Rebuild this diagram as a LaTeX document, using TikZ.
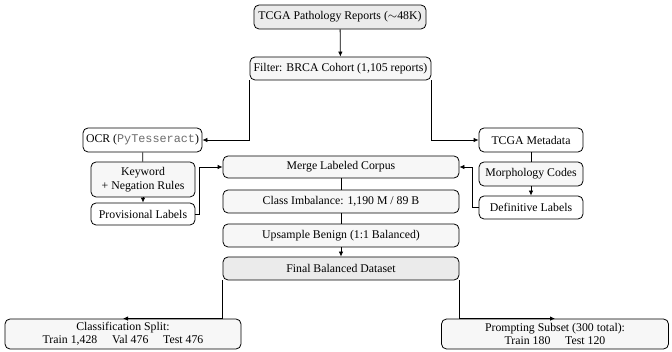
\documentclass[tikz,border=0pt]{standalone}
\usepackage{fontspec}
\setmainfont{Liberation Serif}
\setmonofont{Liberation Mono}
\usepackage{amssymb}
\usetikzlibrary{arrows.meta}
\usetikzlibrary{positioning}
\tikzstyle{box}=[rectangle,rounded corners=5pt,draw=black,fill=white,inner sep=1pt,minimum height=23pt,font=\fontsize{11.8}{13.5}\selectfont,align=center]
\tikzstyle{lightbox}=[box,fill=gray!6]
\tikzstyle{darkbox}=[box,fill=gray!16]
\tikzstyle{arrow}=[-{Latex[length=5pt,width=4.5pt]}]
\tikzset{every picture/.style={
    line width=0.8pt
  }
}

\begin{document}
\begin{tikzpicture}[x=1pt,y=-1pt]
    \useasboundingbox (0,0) rectangle (672,352);
    % source and filter
    \node[darkbox,minimum width=172pt,minimum height=24pt] at (340,17) (reports) {TCGA Pathology Reports ($\sim$48K)};
    \node[lightbox,minimum width=181pt] at (340.5,68.5) (filter) {Filter: BRCA Cohort (1,105 reports)};
    \draw[arrow] (reports) -- (filter);
    % left branch
    \node[box,minimum width=119pt,minimum height=24pt] at (142.5,140) (ocr) {OCR ({\ttfamily\color{gray!85!black}PyTesseract})};
    \node[lightbox,minimum width=104pt,minimum height=35pt] at (143,179.5) (keyword) {Keyword\\+ Negation Rules};
    \node[box,minimum width=104pt,minimum height=22pt] at (143,214) (provisional) {Provisional Labels};
    % right branch
    \node[box,minimum width=104pt,minimum height=24pt] at (531,140) (metadata) {TCGA Metadata};
    \node[lightbox,minimum width=104pt,minimum height=24pt] at (531,174) (morphology) {Morphology Codes};
    \node[box,minimum width=104pt] at (531,207.5) (definitive) {Definitive Labels};
    % middle column
    \node[lightbox,minimum width=236pt,minimum height=22pt] at (341,167) (merge) {Merge Labeled Corpus};
    \node[lightbox,minimum width=236pt] at (341,201.5) (imbalance) {Class Imbalance: 1,190 M / 89 B};
    \node[lightbox,minimum width=236pt] at (341,235.5) (upsample) {Upsample Benign (1:1 Balanced)};
    \node[darkbox,minimum width=236pt] at (341,268.5) (final) {Final Balanced Dataset};
    % splits
    \node[lightbox,minimum width=236pt,minimum height=30pt] at (123,334) (classify) {Classification Split:\\Train 1,428 \quad Val 476 \quad Test 476};
    \node[lightbox,minimum width=227pt,minimum height=30pt] at (555,334) (prompting) {Prompting Subset (300 total):\\Train 180 \quad Test 120};
    \draw[arrow] (filter.south west) |- (ocr.east);
    \draw[arrow] (filter.south east) |- (metadata.west);
    \draw (ocr) -- (keyword);
    \draw[arrow] (keyword) -- (provisional);
    \draw[arrow] (provisional.east) -- ++(4,0) |- (merge.west);
    \draw (metadata) -- (morphology);
    \draw[arrow] (morphology) -- (definitive);
    \draw[arrow] (definitive.west) -- ++(-6,0) |- (merge.east);
    \draw (merge) -- (imbalance);
    \draw (imbalance) -- (upsample);
    \draw[arrow] (upsample) -- (final);
    \draw[arrow] (final.south west) |- (classify.north);
    \draw[arrow] (final.south east) |- (prompting.north);
  \end{tikzpicture}
\end{document}
